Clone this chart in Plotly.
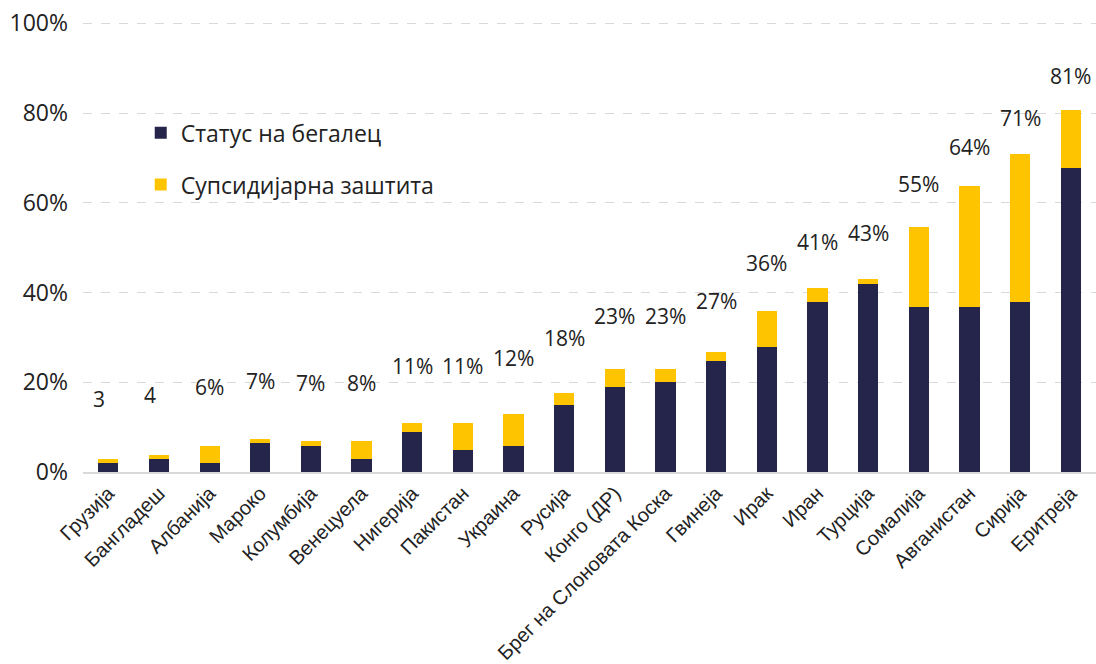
import plotly.graph_objects as go

countries = ["Грузија", "Бангладеш", "Албанија", "Мароко", "Колумбија", "Венецуела",
             "Нигерија", "Пакистан", "Украина", "Русија", "Конго (ДР)",
             "Брег на Слоновата Коска", "Гвинеја", "Ирак", "Иран", "Турција",
             "Сомалија", "Авганистан", "Сирија", "Еритреја"]
refugee = [1.9, 2.9, 1.9, 6.4, 5.9, 2.9, 9.0, 5.0, 5.9, 14.9, 19.0, 20.0,
           24.7, 27.8, 37.8, 41.9, 36.8, 36.8, 37.8, 67.8]
subsidiary = [1.0, 1.0, 3.9, 1.0, 0.9, 3.9, 2.0, 6.0, 7.0, 2.8, 3.9, 2.9,
              2.0, 8.0, 3.1, 1.0, 17.9, 26.9, 33.0, 12.9]
total_labels = ["3", "4", "6%", "7%", "7%", "8%", "11%", "11%", "12%", "18%",
                "23%", "23%", "27%", "36%", "41%", "43%", "55%", "64%", "71%", "81%"]
y_ticks = [0, 20, 40, 60, 80, 100]
y_tick_text = ["0%", "20%", "40%", "60%", "80%", "100%"]

NAVY = "#25244B"
GOLD = "#FFC400"
LABEL_FONT = "'Open Sans', Lato, sans-serif"

fig = go.Figure()
fig.add_trace(go.Bar(x=countries, y=refugee, name="Статус на бегалец",
                     marker=dict(color=NAVY, line=dict(width=0)),
                     legendgroup="a"))
fig.add_trace(go.Bar(x=countries, y=subsidiary, name="Супсидијарна заштита",
                     marker=dict(color=GOLD, line=dict(width=0)),
                     legendgroup="b"))

for c, r, s, t in zip(countries, refugee, subsidiary, total_labels):
    tot = r + s
    fig.add_annotation(x=c, y=tot + 13.5 - 0.075 * tot, text=t, showarrow=False,
                       yanchor="middle", xanchor="center",
                       xshift=0 if "%" in t else -9,
                       font=dict(family=LABEL_FONT, size=21, color="#222222"))

fig.update_layout(
    barmode="stack",
    bargap=0.6,
    width=1096, height=664,
    margin=dict(l=83, r=0, t=21, b=189),
    plot_bgcolor="white", paper_bgcolor="white",
    legend=dict(x=0.057, y=0.80, xanchor="left", yanchor="top",
                traceorder="grouped", tracegroupgap=19,
                font=dict(family=LABEL_FONT, size=23, color="#222222"),
                bgcolor="rgba(0,0,0,0)"),
    xaxis=dict(tickangle=-45, showgrid=False, showline=True,
               linecolor="#d9d9d9", linewidth=1.5, ticks="",
               tickfont=dict(family="'Liberation Sans', Arial, sans-serif",
                             size=20, color="#222222")),
    yaxis=dict(range=[0, 100.5], tickvals=y_ticks, ticktext=y_tick_text,
               showgrid=True, gridcolor="#d9d9d9", griddash="dash", gridwidth=1,
               zeroline=False, showline=False, ticks="", ticklabelstandoff=14,
               ticklabeloverflow="allow", automargin=False,
               tickfont=dict(family=LABEL_FONT, size=23, color="#222222")),
)

# remove the default 8px page margin so the figure fills the window exactly
fig.write_html("out.html",
               config={"displayModeBar": False},
               post_script="document.body.style.margin='0';document.body.style.overflow='hidden';")
